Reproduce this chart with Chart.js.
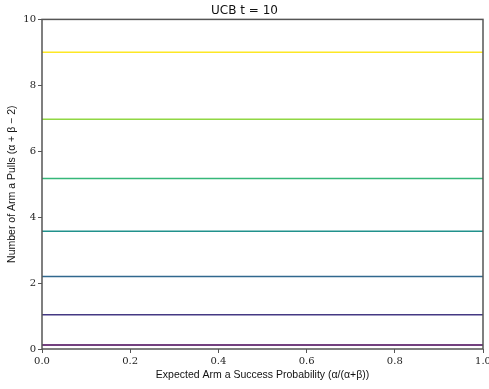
<!DOCTYPE html>
<html>
<head>
<meta charset="utf-8">
<script src="https://cdn.jsdelivr.net/npm/chart.js@4.4.1/dist/chart.umd.min.js"></script>
<style>
  html, body { margin: 0; padding: 0; overflow: hidden; background: #fff; }
  #wrap { width: 500px; height: 389px; position: relative; }
</style>
</head>
<body>
<div id="wrap"><canvas id="mycanvas"></canvas></div>
<script>
// x extent of every line (probability from 0 to 1)
var xRange = [0, 1];
// number of pulls for each line (bottom to top)
var pullLevels = [0.12, 1.04, 2.2, 3.57, 5.17, 6.97, 9.0];
var lineColors = ['#440154', '#443983', '#31688e', '#21918c', '#35b779', '#90d743', '#fde725'];
var xTicks = [0, 0.2, 0.4, 0.6, 0.8, 1.0];
var yTicks = [0, 2, 4, 6, 8, 10];

var datasets = pullLevels.map(function(v, i) {
  return {
    data: xRange.map(function(x) { return {x: x, y: v}; }),
    borderColor: lineColors[i],
    borderWidth: 1.5,
    pointRadius: 0,
    fill: false
  };
});

// draws the full box round the plot, like matplotlib spines
var frame = {
  id: 'frame',
  afterDatasetsDraw: function(chart) {
    var a = chart.chartArea, c = chart.ctx;
    c.save();
    c.strokeStyle = '#555';
    c.lineWidth = 1.5;
    c.strokeRect(a.left, a.top, a.right - a.left, a.bottom - a.top);
    c.restore();
  }
};

var tickFont = {family: 'DejaVu Serif', size: 10};
var labelFont = {family: 'Liberation Sans', size: 10.5};

new Chart(document.getElementById('mycanvas'), {
  type: 'line',
  data: {datasets: datasets},
  options: {
    responsive: true,
    maintainAspectRatio: false,
    animation: false,
    layout: {padding: {right: 17, top: 1, left: 6, bottom: 8}},
    plugins: {
      legend: {display: false},
      tooltip: {enabled: false},
      title: {
        display: true,
        text: 'UCB t = 10',
        color: '#111',
        font: {family: 'DejaVu Sans', size: 12, weight: 'normal'},
        padding: {top: 3, bottom: 1}
      }
    },
    scales: {
      x: {
        type: 'linear',
        min: xTicks[0],
        max: xTicks[xTicks.length - 1],
        afterBuildTicks: function(s) { s.ticks = xTicks.map(function(v) { return {value: v}; }); },
        afterFit: function(s) { s.height = 32; },
        border: {display: false},
        grid: {drawOnChartArea: false, drawTicks: true, tickLength: 4, color: '#555'},
        ticks: {
          font: tickFont, color: '#222', padding: 2, maxRotation: 0,
          callback: function(v) { return v.toFixed(1); }
        },
        title: {display: true, text: 'Expected Arm a Success Probability (α/(α+β))', font: labelFont, color: '#111', padding: 0}
      },
      y: {
        min: yTicks[0],
        max: yTicks[yTicks.length - 1],
        afterBuildTicks: function(s) { s.ticks = yTicks.map(function(v) { return {value: v}; }); },
        afterFit: function(s) { s.width = 36; },
        border: {display: false},
        grid: {drawOnChartArea: false, drawTicks: true, tickLength: 4, color: '#555'},
        ticks: {font: tickFont, color: '#222', padding: 2},
        title: {display: true, text: 'Number of Arm a Pulls (α + β − 2)', font: labelFont, color: '#111', padding: 0}
      }
    }
  },
  plugins: [frame]
});
</script>
</body>
</html>
